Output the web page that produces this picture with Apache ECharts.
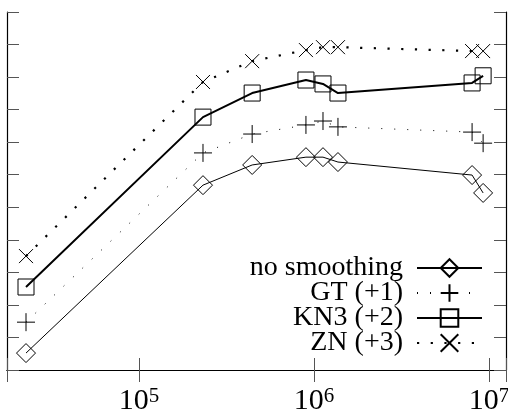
<!DOCTYPE html>
<html lang="en">
<head>
  <meta charset="UTF-8">
  <title>smoothing</title>
  <script src="https://cdn.jsdelivr.net/npm/echarts@6/dist/echarts.min.js"></script>
  <style>
    html, body { margin: 0; padding: 0; background: #fff; }
  </style>
</head>
<body>
<div id="main" style="width: 508px;height:411px;"></div>
<script>
  // x positions (log scale) shared by every series
  var xVals = [22600, 232000, 443000, 899000, 1125000, 1370000, 8000000, 9250000];
  var noSmooth = [0.52, 5.68, 6.30, 6.54, 6.54, 6.39, 5.99, 5.44];
  var gt = [1.47, 6.67, 7.25, 7.53, 7.65, 7.47, 7.31, 6.97];
  var kn3 = [2.55, 7.77, 8.51, 8.91, 8.79, 8.51, 8.82, 9.04];
  var zn = [3.50, 8.85, 9.49, 9.83, 9.92, 9.92, 9.80, 9.80];
  var names = ['no smoothing', 'GT (+1)', 'KN3 (+2)', 'ZN (+3)'];

  var font = 'Liberation Serif';
  var myChart = echarts.init(document.getElementById('main'));

  function pairs(ys) {
    return ys.map(function (y, i) { return [xVals[i], y]; });
  }

  function expLabel(v) {
    var l = Math.log10(v);
    var e = Math.round(l);
    if (Math.abs(l - e) > 1e-6) return '';
    return '{b|10}{s|' + e + '}';
  }

  var plusPath = 'path://M10,0L10,20M0,10L20,10';
  var crossPath = 'path://M0,0L20,20M20,0L0,20';

  var tickStyle = { color: '#555', width: 1 };
  var lineAxis = { show: true, lineStyle: { color: '#000', width: 1.2 } };

  option = {
    animation: false,
    grid: { left: 7, right: 2, top: 12, bottom: 41, containLabel: false, outerBoundsMode: 'none' },
    legend: {
      orient: 'vertical',
      right: 25,
      top: 254,
      padding: 0,
      align: 'right',
      itemWidth: 65,
      itemHeight: 22,
      itemGap: -3,
      textStyle: { fontFamily: font, fontSize: 28, color: '#000', padding: [0, 9, 0, 0] },
      data: names
    },
    xAxis: [{
      type: 'log',
      logBase: 10,
      min: 17600,
      max: 12500000,
      axisLine: lineAxis,
      axisTick: { inside: true, length: 12, lineStyle: tickStyle },
      splitLine: { show: false },
      minorTick: { show: false },
      axisLabel: {
        margin: 16,
        formatter: expLabel,
        rich: {
          b: { fontFamily: font, fontSize: 30, color: '#000', lineHeight: 30 },
          s: { fontFamily: font, fontSize: 21, color: '#000', lineHeight: 21, verticalAlign: 'top' }
        }
      }
    }, {
      type: 'log',
      logBase: 10,
      position: 'top',
      min: 17600,
      max: 12500000,
      axisLine: lineAxis,
      axisTick: { inside: true, length: 12, lineStyle: tickStyle },
      splitLine: { show: false },
      axisLabel: { show: false }
    }],
    yAxis: [{
      type: 'value',
      min: 0,
      max: 11,
      interval: 1,
      axisLine: lineAxis,
      axisTick: { inside: true, length: 12, lineStyle: tickStyle },
      splitLine: { show: false },
      axisLabel: { show: false }
    }, {
      type: 'value',
      position: 'right',
      min: 0,
      max: 11,
      interval: 1,
      axisLine: lineAxis,
      axisTick: { inside: true, length: 12, lineStyle: tickStyle },
      splitLine: { show: false },
      axisLabel: { show: false }
    }],
    series: [{
      name: names[0],
      type: 'line',
      symbol: 'diamond',
      symbolSize: 19,
      itemStyle: { color: 'none', borderColor: '#000', borderWidth: 1 },
      lineStyle: { color: '#000', width: 1 },
      data: pairs(noSmooth)
    }, {
      name: names[1],
      type: 'line',
      symbol: plusPath,
      symbolSize: 18,
      itemStyle: { color: 'none', borderColor: '#000', borderWidth: 1 },
      lineStyle: { color: '#000', width: 1, type: [1, 12] },
      data: pairs(gt)
    }, {
      name: names[2],
      type: 'line',
      symbol: 'rect',
      symbolSize: 16,
      itemStyle: { color: 'none', borderColor: '#000', borderWidth: 1 },
      lineStyle: { color: '#000', width: 2 },
      data: pairs(kn3)
    }, {
      name: names[3],
      type: 'line',
      symbol: crossPath,
      symbolSize: 14,
      itemStyle: { color: 'none', borderColor: '#000', borderWidth: 1 },
      lineStyle: { color: '#000', width: 2.2, type: [2.2, 11.5] },
      data: pairs(zn)
    }]
  };

  myChart.setOption(option);
</script>
</body>
</html>
